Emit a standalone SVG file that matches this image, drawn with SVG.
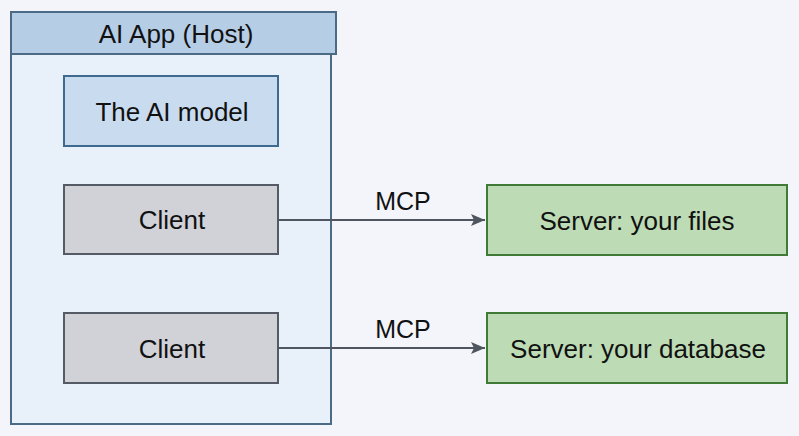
<svg xmlns="http://www.w3.org/2000/svg" width="799" height="436" viewBox="0 0 799 436">
<defs>
<style>
text{font-family:"Liberation Sans",Arial,sans-serif;font-size:26px;fill:#111;text-anchor:middle;dominant-baseline:central}
.lbl{font-size:25px}
.conn{stroke:#4f565f;stroke-width:2;fill:none}
.client{fill:#d0d2d8;stroke:#555b64;stroke-width:2}
.server{fill:#bddcb5;stroke:#3f7a36;stroke-width:2}
</style>
<marker id="ah" viewBox="0 0 14 12" refX="14" refY="6" markerWidth="14" markerHeight="12" markerUnits="userSpaceOnUse" orient="auto">
<path d="M0,0 L14,6 L0,12 L3,6 Z" fill="#4f565f"/>
</marker>
</defs>
<rect width="799" height="436" fill="#f3f5fb"/>
<g id="host">
<rect x="11" y="53" width="320" height="371" fill="#e8f0fa" stroke="#4a6a85" stroke-width="2"/>
<rect x="11" y="12" width="325" height="42" fill="#b6cde6" stroke="#4a6a85" stroke-width="2"/>
<text x="176" y="34">AI App (Host)</text>
</g>
<g id="model">
<rect x="64" y="76" width="214" height="70" fill="#c9dcef" stroke="#3f6a90" stroke-width="2"/>
<text x="172" y="112">The AI model</text>
</g>
<g id="client1">
<rect x="64" y="185" width="214" height="69" class="client"/>
<text x="172" y="220">Client</text>
</g>
<g id="client2">
<rect x="64" y="313" width="214" height="70" class="client"/>
<text x="172" y="349">Client</text>
</g>
<g id="server1">
<rect x="487" y="185" width="300" height="70" class="server"/>
<text x="637" y="221">Server: your files</text>
</g>
<g id="server2">
<rect x="487" y="313" width="300" height="70" class="server"/>
<text x="638" y="349">Server: your database</text>
</g>
<g id="connectors">
<line x1="278" y1="220" x2="485" y2="220" class="conn" marker-end="url(#ah)"/>
<line x1="278" y1="348" x2="485" y2="348" class="conn" marker-end="url(#ah)"/>
<text class="lbl" x="403" y="201">MCP</text>
<text class="lbl" x="403" y="329">MCP</text>
</g>
</svg>
